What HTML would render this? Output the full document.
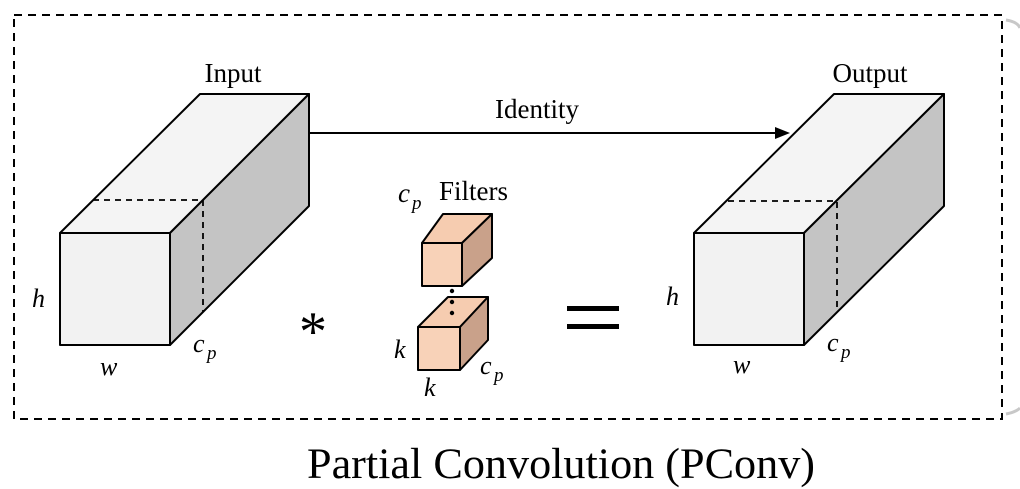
<!DOCTYPE html>
<html><head><meta charset="utf-8"><style>
html,body{margin:0;padding:0;background:#fff;}
svg{display:block;}
text{font-family:"Liberation Serif",serif;fill:#000;}
.it{font-style:italic;}
</style></head><body>
<svg width="1020" height="489" viewBox="0 0 1020 489" xmlns="http://www.w3.org/2000/svg">
<rect x="14" y="15" width="988" height="404" fill="none" stroke="#000" stroke-width="2" stroke-dasharray="8,6"/>
<path d="M1006 20 Q1018 22 1020 28" fill="none" stroke="#c8c8c8" stroke-width="3"/>
<path d="M1006 414 Q1016 412 1020 408" fill="none" stroke="#c8c8c8" stroke-width="3"/>

<!-- Input box -->
<g stroke="#000" stroke-width="2" stroke-linejoin="round">
<polygon points="60,233 200,94 309,94 170,233" fill="#f4f4f4"/>
<polygon points="170,233 309,94 309,206 170,345" fill="#c4c4c4"/>
<rect x="60" y="233" width="110" height="112" fill="#f2f2f2"/>
</g>
<path d="M93 200 H203 V312" fill="none" stroke="#000" stroke-width="1.8" stroke-dasharray="6,5"/>
<text x="233" y="82" font-size="27" text-anchor="middle">Input</text>
<text x="32" y="307" font-size="26" class="it">h</text>
<text x="100" y="375" font-size="26" class="it">w</text>
<text x="193" y="352" font-size="26" class="it">c</text><text x="207" y="359" font-size="19" class="it">p</text>

<!-- Output box -->
<g stroke="#000" stroke-width="2" stroke-linejoin="round">
<polygon points="694,233 834,94 944,94 804,233" fill="#f4f4f4"/>
<polygon points="804,233 944,94 944,206 804,345" fill="#c4c4c4"/>
<rect x="694" y="233" width="110" height="112" fill="#f2f2f2"/>
</g>
<path d="M728 201 H837 V312" fill="none" stroke="#000" stroke-width="1.8" stroke-dasharray="6,5"/>
<text x="870" y="82" font-size="27" text-anchor="middle">Output</text>
<text x="666" y="305" font-size="26" class="it">h</text>
<text x="733" y="373" font-size="26" class="it">w</text>
<text x="827" y="351" font-size="26" class="it">c</text><text x="841" y="358" font-size="19" class="it">p</text>

<!-- Arrow -->
<line x1="309" y1="133" x2="776" y2="133" stroke="#000" stroke-width="2"/>
<polygon points="790,133 775,127 775,139" fill="#000"/>
<text x="537" y="118" font-size="27" text-anchor="middle">Identity</text>

<!-- Filters -->
<text x="398" y="202" font-size="27" class="it">c</text><text x="412" y="209" font-size="19" class="it">p</text>
<text x="439" y="200" font-size="27">Filters</text>
<g stroke="#000" stroke-width="2" stroke-linejoin="round">
<polygon points="422,243 443,214 492,214 462,243" fill="#f6ccb0"/>
<polygon points="462,243 492,214 492,258 462,286" fill="#c9a18a"/>
<rect x="422" y="243" width="40" height="43" fill="#f8d2b8"/>
<polygon points="418,327 448,297 488,297 460,327" fill="#f6ccb0"/>
<polygon points="460,327 488,297 488,340 460,370" fill="#c9a18a"/>
<rect x="418" y="327" width="42" height="43" fill="#f8d2b8"/>
</g>
<circle cx="452" cy="291" r="2.2" fill="#000"/>
<circle cx="452" cy="302" r="2.2" fill="#000"/>
<circle cx="452" cy="313" r="2.2" fill="#000"/>
<text x="394" y="358" font-size="26" class="it">k</text>
<text x="424" y="396" font-size="26" class="it">k</text>
<text x="480" y="374" font-size="26" class="it">c</text><text x="494" y="381" font-size="19" class="it">p</text>

<!-- operators -->
<text x="299" y="350" font-size="56">*</text>
<rect x="567" y="306" width="52" height="5" fill="#000"/>
<rect x="567" y="324" width="52" height="5" fill="#000"/>

<text x="307" y="478" font-size="43" textLength="508" lengthAdjust="spacingAndGlyphs">Partial Convolution (PConv)</text>
</svg>
</body></html>
